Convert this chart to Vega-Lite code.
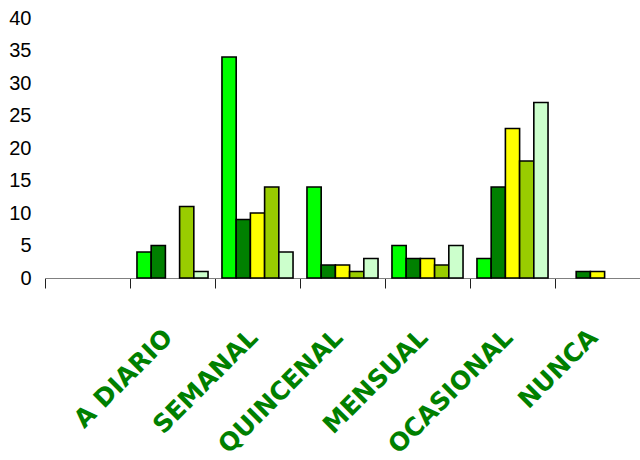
{
  "$schema": "https://vega.github.io/schema/vega-lite/v6.json",
  "autosize": {"type": "none"},
  "padding": {"left": 45, "top": 18, "right": 0, "bottom": 182},
  "width": 595,
  "height": 260,
  "config": {"view": {"stroke": null}, "font": "Liberation Sans"},
  "data": {
    "values": [
      {"cat": "A DIARIO", "serie": "S1", "valor": 4},
      {"cat": "A DIARIO", "serie": "S2", "valor": 5},
      {"cat": "A DIARIO", "serie": "S4", "valor": 11},
      {"cat": "A DIARIO", "serie": "S5", "valor": 1},
      {"cat": "SEMANAL", "serie": "S1", "valor": 34},
      {"cat": "SEMANAL", "serie": "S2", "valor": 9},
      {"cat": "SEMANAL", "serie": "S3", "valor": 10},
      {"cat": "SEMANAL", "serie": "S4", "valor": 14},
      {"cat": "SEMANAL", "serie": "S5", "valor": 4},
      {"cat": "QUINCENAL", "serie": "S1", "valor": 14},
      {"cat": "QUINCENAL", "serie": "S2", "valor": 2},
      {"cat": "QUINCENAL", "serie": "S3", "valor": 2},
      {"cat": "QUINCENAL", "serie": "S4", "valor": 1},
      {"cat": "QUINCENAL", "serie": "S5", "valor": 3},
      {"cat": "MENSUAL", "serie": "S1", "valor": 5},
      {"cat": "MENSUAL", "serie": "S2", "valor": 3},
      {"cat": "MENSUAL", "serie": "S3", "valor": 3},
      {"cat": "MENSUAL", "serie": "S4", "valor": 2},
      {"cat": "MENSUAL", "serie": "S5", "valor": 5},
      {"cat": "OCASIONAL", "serie": "S1", "valor": 3},
      {"cat": "OCASIONAL", "serie": "S2", "valor": 14},
      {"cat": "OCASIONAL", "serie": "S3", "valor": 23},
      {"cat": "OCASIONAL", "serie": "S4", "valor": 18},
      {"cat": "OCASIONAL", "serie": "S5", "valor": 27},
      {"cat": "NUNCA", "serie": "S2", "valor": 1},
      {"cat": "NUNCA", "serie": "S3", "valor": 1}
    ]
  },
  "mark": {"type": "bar", "stroke": "#000000", "strokeWidth": 1.6},
  "encoding": {
    "x": {
      "field": "cat",
      "type": "nominal",
      "scale": {
        "domain": ["X0", "A DIARIO", "SEMANAL", "QUINCENAL", "MENSUAL", "OCASIONAL", "NUNCA"],
        "paddingInner": 0,
        "paddingOuter": 0
      },
      "axis": {
        "title": null,
        "bandPosition": 0,
        "labelOffset": -4,
        "labelExpr": "datum.label == 'X0' ? '' : datum.label",
        "labelAngle": -45,
        "labelAlign": "right",
        "labelBaseline": "middle",
        "labelFont": "DejaVu Sans",
        "labelFontWeight": "bold",
        "labelFontSize": 25,
        "labelColor": "#008000",
        "labelPadding": 45,
        "labelOverlap": false,
        "domainColor": "#808080",
        "domainWidth": 1,
        "tickColor": "#202020",
        "tickSize": 10,
        "tickWidth": 1
      }
    },
    "xOffset": {
      "field": "serie",
      "type": "nominal",
      "scale": {"domain": ["S1", "S2", "S3", "S4", "S5"], "paddingInner": 0, "paddingOuter": 0.49}
    },
    "y": {
      "field": "valor",
      "type": "quantitative",
      "scale": {"domain": [0, 40], "nice": false},
      "axis": {
        "title": null,
        "values": [0, 5, 10, 15, 20, 25, 30, 35, 40],
        "grid": false,
        "domain": false,
        "ticks": false,
        "labelPadding": 14,
        "labelFontSize": 20,
        "labelColor": "#000000",
        "labelFont": "Liberation Sans"
      }
    },
    "color": {
      "field": "serie",
      "type": "nominal",
      "scale": {"domain": ["S1", "S2", "S3", "S4", "S5"], "range": ["#00FF00", "#008000", "#FFFF00", "#99CC00", "#CCFFCC"]},
      "legend": null
    }
  }
}
